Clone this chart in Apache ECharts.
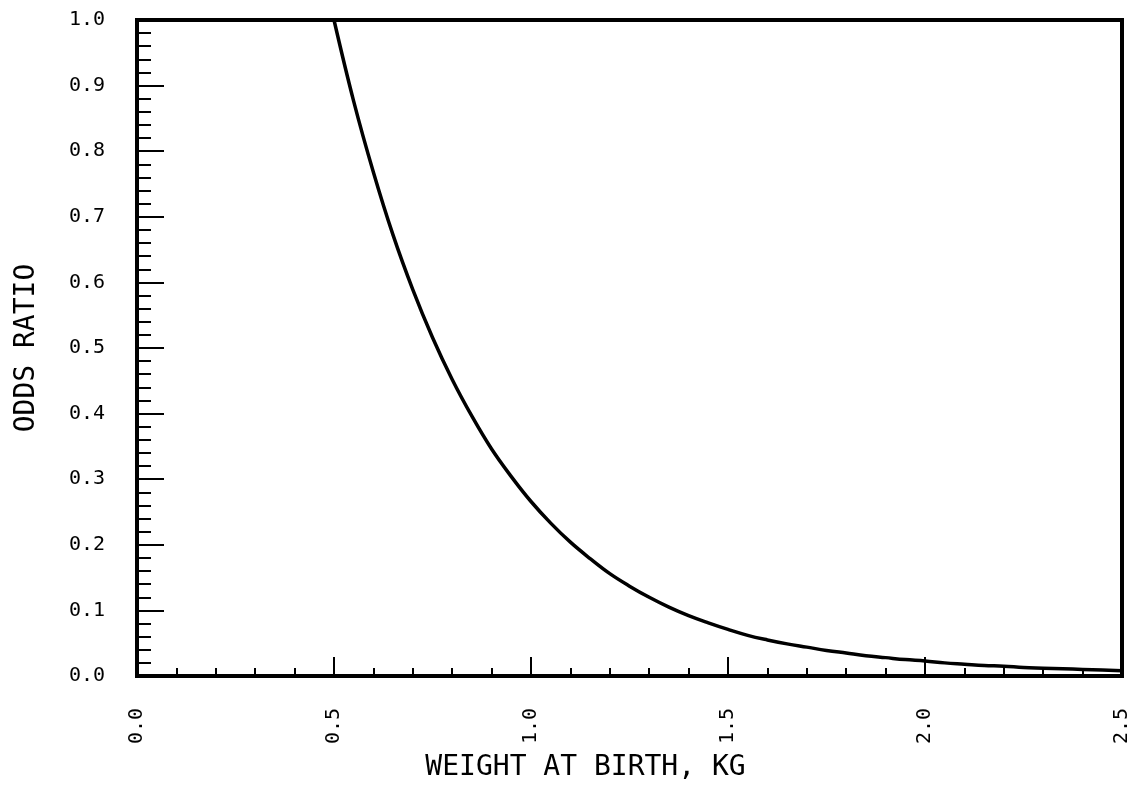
<!DOCTYPE html>
<html>
<head>
    <meta http-equiv="Content-Type" content="text/html; charset=utf-8" />
    <title>Odds ratio vs weight at birth</title>
    <script src="https://cdn.jsdelivr.net/npm/echarts@6/dist/echarts.min.js"></script>
</head>
<body style="margin:0;padding:0;background:#ffffff;">
    <div id="main" style="width:1132px;height:788px;"></div>
    <script type="text/javascript">
        // data
        var weightKg = [0.50, 0.55, 0.60, 0.65, 0.70, 0.75, 0.80, 0.85, 0.90, 0.95,
                        1.00, 1.05, 1.10, 1.15, 1.20, 1.25, 1.30, 1.35, 1.40, 1.45,
                        1.50, 1.55, 1.60, 1.65, 1.70, 1.75, 1.80, 1.85, 1.90, 1.95,
                        2.00, 2.05, 2.10, 2.15, 2.20, 2.25, 2.30, 2.35, 2.40, 2.45, 2.50];
        var oddsRatio = [1.000, 0.876, 0.768, 0.672, 0.589, 0.516, 0.452, 0.396, 0.346, 0.304,
                         0.266, 0.233, 0.204, 0.179, 0.156, 0.137, 0.120, 0.105, 0.092, 0.081,
                         0.071, 0.062, 0.055, 0.049, 0.044, 0.039, 0.035, 0.031, 0.028, 0.025,
                         0.023, 0.020, 0.018, 0.016, 0.015, 0.013, 0.012, 0.011, 0.010, 0.009, 0.008];
        var xTicks = [0.0, 0.5, 1.0, 1.5, 2.0, 2.5];
        var yTicks = [0.0, 0.1, 0.2, 0.3, 0.4, 0.5, 0.6, 0.7, 0.8, 0.9, 1.0];

        var points = [];
        for (var i = 0; i < weightKg.length; i++) {
            points.push([weightKg[i], oddsRatio[i]]);
        }

        var chart = echarts.init(document.getElementById('main'));
        var monoFont = 'DejaVu Sans Mono';

        var option = {
            backgroundColor: '#ffffff',
            animation: false,
            grid: {
                left: 137,
                top: 20,
                right: 7,
                bottom: 112,
                show: true,
                borderColor: '#000000',
                borderWidth: 4
            },
            xAxis: {
                type: 'value',
                min: xTicks[0],
                max: xTicks[xTicks.length - 1],
                interval: 0.5,
                name: 'WEIGHT AT BIRTH, KG',
                nameLocation: 'middle',
                nameGap: 78,
                nameTextStyle: {
                    color: '#000000',
                    fontFamily: monoFont,
                    fontSize: 28,
                    padding: [0, 88, 0, 0]
                },
                splitLine: { show: false },
                axisLine: { lineStyle: { color: '#000000', width: 4 } },
                axisTick: { inside: true, length: 19, lineStyle: { color: '#000000', width: 2 } },
                minorTick: { show: true, splitNumber: 5, length: 8, lineStyle: { color: '#000000', width: 2 } },
                axisLabel: {
                    rotate: 90,
                    margin: 32,
                    color: '#000000',
                    fontFamily: monoFont,
                    fontSize: 20,
                    formatter: function (v) { return v.toFixed(1); }
                }
            },
            yAxis: {
                type: 'value',
                min: yTicks[0],
                max: yTicks[yTicks.length - 1],
                interval: 0.1,
                name: 'ODDS RATIO',
                nameLocation: 'middle',
                nameGap: 96,
                nameTextStyle: {
                    color: '#000000',
                    fontFamily: monoFont,
                    fontSize: 28
                },
                splitLine: { show: false },
                axisLine: { lineStyle: { color: '#000000', width: 4 } },
                axisTick: { inside: true, length: 27, lineStyle: { color: '#000000', width: 2 } },
                minorTick: { show: true, splitNumber: 5, length: 14, lineStyle: { color: '#000000', width: 2 } },
                axisLabel: {
                    margin: 32,
                    color: '#000000',
                    fontFamily: monoFont,
                    fontSize: 20,
                    formatter: function (v) { return v.toFixed(1); }
                }
            },
            series: [
                {
                    type: 'line',
                    data: points,
                    smooth: 0.4,
                    showSymbol: false,
                    clip: true,
                    lineStyle: { color: '#000000', width: 3.5 }
                }
            ]
        };
        chart.setOption(option);
    </script>
</body>
</html>
